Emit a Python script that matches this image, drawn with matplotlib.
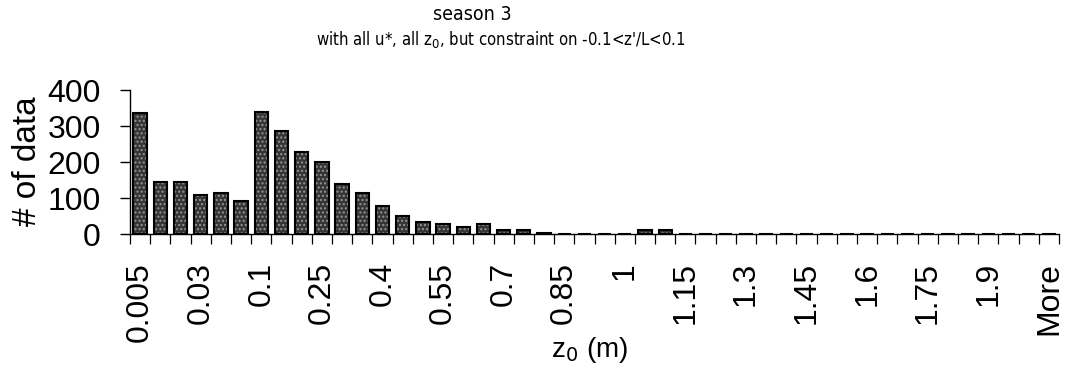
import matplotlib
matplotlib.use("Agg")
import matplotlib.pyplot as plt
from matplotlib import font_manager
import numpy as np

# Histogram bins of roughness length z0 (m) and the number of samples in each
bins = ["0.005", "0.01", "0.02", "0.03", "0.05", "0.07",
        "0.1", "0.15", "0.2", "0.25", "0.3", "0.35", "0.4", "0.45", "0.5",
        "0.55", "0.6", "0.65", "0.7", "0.75", "0.8", "0.85", "0.9", "0.95",
        "1", "1.05", "1.1", "1.15", "1.2", "1.25", "1.3", "1.35", "1.4",
        "1.45", "1.5", "1.55", "1.6", "1.65", "1.7", "1.75", "1.8", "1.85",
        "1.9", "1.95", "2", "More"]
counts = [337, 144, 144, 107, 114, 93,
          339, 287, 228, 199, 139, 115, 79, 49, 34,
          27, 20, 27, 10, 12, 2, 1, 0, 0,
          0, 10, 12, 1, 0, 0, 1, 1, 0,
          0, 1, 1, 1, 1, 0, 1, 1, 1,
          0, 0, 1, 0]
label_step = 3

W, H, DPI = 1071, 371, 100
fig = plt.figure(figsize=(W / DPI, H / DPI), dpi=DPI)
fig.patch.set_facecolor("white")

ax = fig.add_axes([130 / W, 1 - 234 / H, 929 / W, 144 / H])

x = np.arange(len(bins))
# stippled grey fill, then black outline on top
ax.bar(x, counts, width=0.66, color="#353535", edgecolor="#959595",
       linewidth=0, hatch="....", zorder=2)
ax.bar(x, counts, width=0.66, fill=False, edgecolor="black",
       linewidth=1.5, zorder=3)

ax.set_xlim(-0.5, len(bins) - 0.5)
ax.set_ylim(0, 400)

for s in ("top", "right"):
    ax.spines[s].set_visible(False)
ax.spines["left"].set_linewidth(1.0)
ax.spines["bottom"].set_linewidth(1.0)

tick_font = dict(family=["Liberation Sans", "DejaVu Sans"], size=23)

ax.set_yticks([0, 100, 200, 300, 400])
ax.set_yticklabels(["0", "100", "200", "300", "400"], **tick_font)
ax.tick_params(axis="y", direction="out", length=7.2, width=1.0, pad=14)

ax.set_xticks(x[::label_step])
ax.set_xticklabels(bins[::label_step], rotation=90, **tick_font)
ax.set_xticks(np.arange(-0.5, len(bins), 1.0), minor=True)
ax.tick_params(axis="x", which="major", length=0, pad=20)
ax.tick_params(axis="x", which="minor", direction="out", length=7.2, width=0.9)

fig.text(28 / W, 1 - 161 / H, "# of data", rotation=90, ha="center",
         va="center", family=["Liberation Sans", "DejaVu Sans"], size=24)
fig.text(590 / W, 1 - 350 / H, r"z$_0$ (m)", ha="center", va="center",
         family=["Liberation Sans", "DejaVu Sans"], size=20)

# condensed face for the two title lines
cond = font_manager.FontProperties(family="DejaVu Sans", stretch="condensed",
                                   size=14)
cond_small = cond.copy()
cond_small.set_size(12)
fig.text(472 / W, 1 - 15 / H, "season 3", ha="center", va="center",
         fontproperties=cond)
fig.text(501 / W, 1 - 39 / H,
         r"with all u*, all z$_0$, but constraint on -0.1<z'/L<0.1",
         ha="center", va="center", fontproperties=cond_small)

fig.savefig("out.png", dpi=DPI, facecolor="white")
